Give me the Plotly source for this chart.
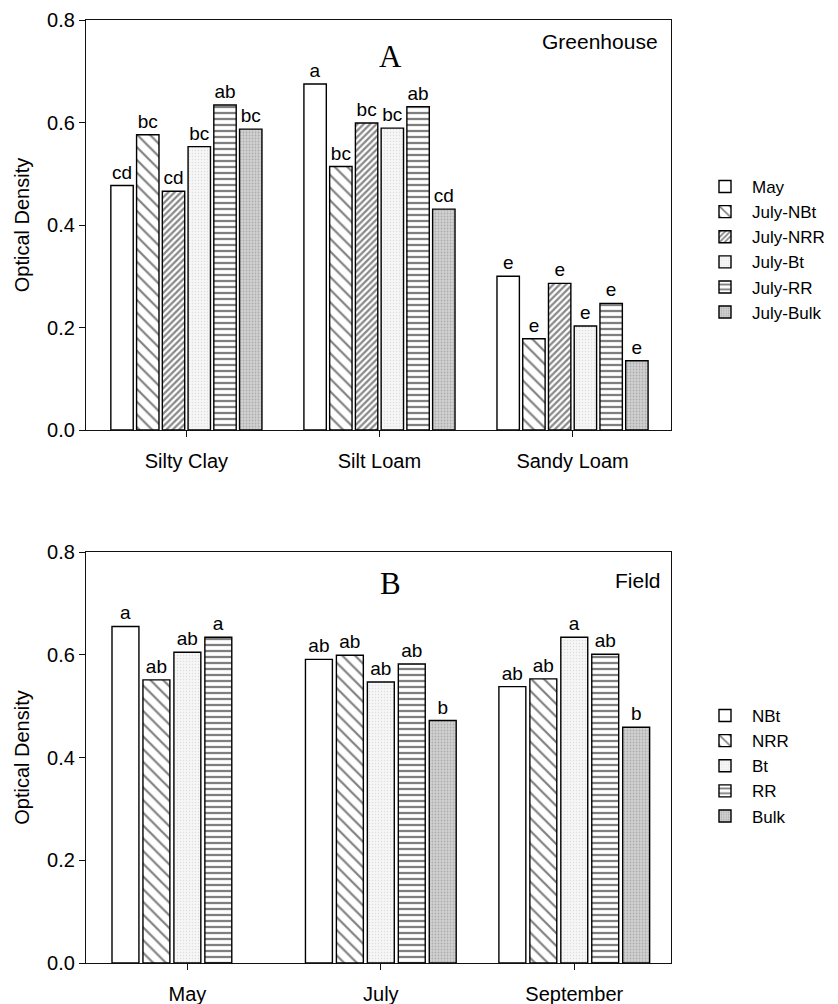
import plotly.graph_objects as go

# ---------------- data ----------------
soil_types = ["Silty Clay", "Silt Loam", "Sandy Loam"]
gh_series = ["May", "July-NBt", "July-NRR", "July-Bt", "July-RR", "July-Bulk"]
gh_values = {
    "May":       [0.477, 0.675, 0.300],
    "July-NBt":  [0.576, 0.514, 0.178],
    "July-NRR":  [0.466, 0.599, 0.286],
    "July-Bt":   [0.553, 0.589, 0.203],
    "July-RR":   [0.634, 0.631, 0.247],
    "July-Bulk": [0.587, 0.431, 0.135],
}
gh_letters = {
    "May":       ["cd", "a", "e"],
    "July-NBt":  ["bc", "bc", "e"],
    "July-NRR":  ["cd", "bc", "e"],
    "July-Bt":   ["bc", "bc", "e"],
    "July-RR":   ["ab", "ab", "e"],
    "July-Bulk": ["bc", "cd", "e"],
}

months = ["May", "July", "September"]
field_series = ["NBt", "NRR", "Bt", "RR", "Bulk"]
field_values = {
    "NBt":  [0.655, 0.591, 0.538],
    "NRR":  [0.551, 0.599, 0.553],
    "Bt":   [0.605, 0.547, 0.634],
    "RR":   [0.634, 0.582, 0.601],
    "Bulk": [None, 0.472, 0.459],
}
field_letters = {
    "NBt":  ["a", "ab", "ab"],
    "NRR":  ["ab", "ab", "ab"],
    "Bt":   ["ab", "ab", "a"],
    "RR":   ["a", "ab", "ab"],
    "Bulk": ["", "b", "b"],
}

y_ticks = [0.0, 0.2, 0.4, 0.6, 0.8]
y_ticktext = ["0.0", "0.2", "0.4", "0.6", "0.8"]

# ---------------- styles ----------------
FONT = "Liberation Sans, Arial, Helvetica, sans-serif"
SERIF = "Liberation Serif, Times New Roman, serif"
styles = {
    "plain":  dict(color="white", pattern=dict(shape="")),
    "nbt":    dict(color="white", pattern=dict(shape="\\", fgcolor="black", bgcolor="white", size=9, solidity=0.24)),
    "nrr":    dict(color="white", pattern=dict(shape="/", fgcolor="#111111", bgcolor="white", size=4.5, solidity=0.5)),
    "bt":     dict(color="#f3f3f3", pattern=dict(shape=".", fgcolor="#c4c4c4", bgcolor="#f6f6f6", size=3, solidity=0.2)),
    "rr":     dict(color="white", pattern=dict(shape="-", fgcolor="black", bgcolor="white", size=6, solidity=0.38)),
    "bulk":   dict(color="#cccccc", pattern=dict(shape=".", fgcolor="#858585", bgcolor="#d2d2d2", size=3, solidity=0.3)),
}
gh_style = {"May": "plain", "July-NBt": "nbt", "July-NRR": "nrr",
            "July-Bt": "bt", "July-RR": "rr", "July-Bulk": "bulk"}
field_style = {"NBt": "plain", "NRR": "nbt", "Bt": "bt", "RR": "rr", "Bulk": "bulk"}

fig = go.Figure()


def add_bar(name, x, y, text, style, xa, ya, legend):
    st = styles[style]
    fig.add_trace(go.Bar(
        name=name, x=x, y=y, text=text,
        textposition="outside", constraintext="none", cliponaxis=False,
        textfont=dict(family=FONT, size=19, color="black"),
        marker=dict(color=st["color"], pattern=st["pattern"],
                    line=dict(color="black", width=1.4)),
        xaxis=xa, yaxis=ya, legend=legend,
    ))


for s in gh_series:
    add_bar(s, soil_types, gh_values[s], gh_letters[s], gh_style[s], "x", "y", "legend")
for s in field_series:
    add_bar(s, months, field_values[s], field_letters[s], field_style[s], "x2", "y2", "legend2")

# the page body adds an 8px offset; layout positions below are in screen pixels
OFF = 8
W, H = 838 - OFF, 1004 - OFF
L, R, T, B = 86 - OFF, 671 - OFF, 20 - OFF, 963 - OFF   # plot-area box
PW, PH = R - L, B - T


def px_x(p):
    return (p - OFF - L) / PW


def px_y(p):
    return 1 - (p - OFF - T) / PH


def cy(p):
    return 1 - (p - OFF) / H


xaxis_common = dict(showline=True, linecolor="#111111", linewidth=1.2, mirror=True,
                    ticks="outside", ticklen=6, tickcolor="#111111", showgrid=False,
                    zeroline=False, automargin=False, ticklabelstandoff=7,
                    tickfont=dict(family=FONT, size=20, color="black"))
yaxis_common = dict(showline=True, linecolor="#111111", linewidth=1.2, mirror=True,
                    ticks="outside", ticklen=6, tickcolor="#111111", showgrid=False,
                    zeroline=False, automargin=False, range=[0, 0.8],
                    tickvals=y_ticks, ticktext=y_ticktext,
                    tickfont=dict(family=FONT, size=20, color="black"),
                    title=dict(text="Optical Density", font=dict(family=FONT, size=20), standoff=12))

fig.update_layout(
    width=W, height=H,
    margin=dict(l=L, r=W - R, t=T, b=H - B, autoexpand=False),
    paper_bgcolor="white", plot_bgcolor="white",
    barmode="group", bargap=0.2, bargroupgap=0.13,
    font=dict(family=FONT, color="black"),
    xaxis=dict(domain=[0, 1], anchor="y", range=[-0.52, 2.51], **xaxis_common),
    yaxis=dict(domain=[px_y(430), px_y(20)], anchor="x", **yaxis_common),
    xaxis2=dict(domain=[0, 1], anchor="y2", range=[-0.524, 2.50], **xaxis_common),
    yaxis2=dict(domain=[px_y(963), px_y(552)], anchor="x2", **yaxis_common),
    legend=dict(xref="container", yref="container", x=(698 - OFF) / W, y=cy(169),
                xanchor="left", yanchor="top",
                font=dict(family=FONT, size=17), itemwidth=44,
                bgcolor="rgba(0,0,0,0)", traceorder="normal"),
    legend2=dict(xref="container", yref="container", x=(698 - OFF) / W, y=cy(698),
                 xanchor="left", yanchor="top",
                 font=dict(family=FONT, size=17), itemwidth=44,
                 bgcolor="rgba(0,0,0,0)", traceorder="normal"),
    annotations=[
        dict(text="A", x=px_x(390), y=px_y(57), xref="paper", yref="paper", showarrow=False,
             xanchor="center", yanchor="middle", font=dict(family=SERIF, size=31)),
        dict(text="Greenhouse", x=px_x(660), y=px_y(42), xref="paper", yref="paper", showarrow=False,
             xanchor="right", yanchor="middle", font=dict(family=FONT, size=21)),
        dict(text="B", x=px_x(390), y=px_y(583), xref="paper", yref="paper", showarrow=False,
             xanchor="center", yanchor="middle", font=dict(family=SERIF, size=31)),
        dict(text="Field", x=px_x(663), y=px_y(580), xref="paper", yref="paper", showarrow=False,
             xanchor="right", yanchor="middle", font=dict(family=FONT, size=21)),
    ],
)

fig.write_html("out.html")
